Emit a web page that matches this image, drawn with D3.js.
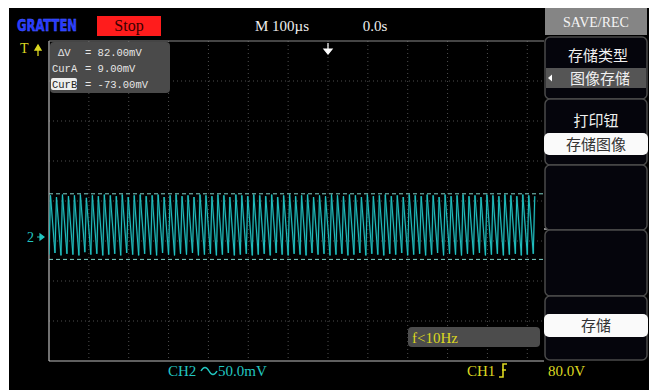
<!DOCTYPE html>
<meta charset="utf-8">
<style>
body { margin: 0; background: #fff; }
svg { display: block; }
.serif { font-family: "Liberation Serif", "DejaVu Serif", serif; }
.mono { font-family: "Liberation Mono", "DejaVu Sans Mono", monospace; }
.cjk { font-family: "Noto Sans CJK SC", sans-serif; }
.grid line { stroke: #4e4e4e; stroke-width: 1; stroke-dasharray: 1,3; }
.wave { fill: none; stroke: #22c2c2; stroke-width: 1px; }
.wave-glow { fill: none; stroke: #0b7478; stroke-width: 2px; opacity: 0.45; }
</style>
<svg width="652" height="390"></svg>
<script src="https://cdn.jsdelivr.net/npm/d3@7"></script>
<script>

// scope settings
var timePerDiv = 100;      // µs
var voltPerDiv = 50;       // mV (CH2)
var divX = 14, divY = 8;
var triggerTime = 0;       // µs, "0.0s"
var ch2Offset = -45;       // mV, position of the "2->" marker
var cursors = [{name: "CurA", mv: 9.00}, {name: "CurB", mv: -73.00}];

// CH2 trace: one peak and one trough per cycle, in mV
var cyclePeriod = 15.0;    // µs between successive troughs
var traceStart = -700;     // µs
var peaks = [7,5,8,6,7,8,4,7,6,8, 7,6,8,5,7,8,6,7,8,5, 7,8,6,7,5,8,7,6,8,7,
             5,8,7,6,8,7,6,8,5,7, 8,6,7,8,5,7,6,8,7,6, 8,7,5,8,6,7,8,6,7,5,
             8,7,6,8,7,5,8,6,7,8, 6,7,5,8,7,6,8,7,6,8, 7,6];
var troughs = [-67,-65,-68,-66,-67,-68,-64,-67,-66,-68, -67,-66,-68,-65,-67,-68,-66,-67,-68,-65,
               -67,-68,-66,-67,-65,-68,-67,-66,-68,-67, -65,-68,-67,-66,-68,-67,-66,-68,-65,-67,
               -68,-66,-67,-68,-65,-67,-66,-68,-67,-66, -68,-67,-65,-68,-66,-67,-68,-66,-67,-65,
               -68,-67,-66,-68,-67,-65,-68,-66,-67,-68, -66,-67,-65,-68,-67,-66,-68,-67,-66,-68,
               -67,-66];

// status texts
var topLabels = {timebase: "M 100µs", delay: "0.0s", state: "Stop", brand: "GRATTEN"};
var ch2Label = "CH2 ", ch2Scale = "50.0mV";
var ch1Label = "CH1", trigLevel = "80.0V";
var freqLabel = "f<10Hz";
var menuTitle = "SAVE/REC";
var menuItems = ["存储类型", "图像存储", "打印钮", "存储图像", "存储"];

var svg = d3.select("svg");

var plot = {left: 49, top: 41, width: 558, height: 320, clipRight: 544};

var x = d3.scaleLinear()
    .domain([-divX / 2 * timePerDiv, divX / 2 * timePerDiv])
    .range([plot.left, plot.left + plot.width]);
var y = d3.scaleLinear()
    .domain([-divY / 2 * voltPerDiv, divY / 2 * voltPerDiv])
    .range([plot.top + plot.height, plot.top]);

var yellow = "#dcd820", cyan = "#22c6c0";

// screen
svg.append("rect").attr("x", 9).attr("y", 8).attr("width", 640).attr("height", 382).attr("fill", "#000");

svg.append("clipPath").attr("id", "clip")
  .append("rect")
    .attr("x", plot.left).attr("y", plot.top)
    .attr("width", plot.clipRight - plot.left).attr("height", plot.height);

// grid
var grid = svg.append("g").attr("class", "grid").attr("clip-path", "url(#clip)");
grid.selectAll(".gx")
  .data(d3.range(1, divX).map(function(i) { return x.domain()[0] + i * timePerDiv; }))
  .enter().append("line")
    .attr("x1", function(d) { return x(d); }).attr("x2", function(d) { return x(d); })
    .attr("y1", plot.top).attr("y2", plot.top + plot.height);
grid.selectAll(".gy")
  .data(d3.range(1, divY).map(function(i) { return y.domain()[0] + i * voltPerDiv; }))
  .enter().append("line")
    .attr("x1", plot.left).attr("x2", plot.clipRight)
    .attr("y1", function(d) { return y(d); }).attr("y2", function(d) { return y(d); });

// frame
var frame = svg.append("g").attr("stroke", "#bdbdbd").attr("stroke-width", 1.2);
frame.append("line").attr("x1", plot.left).attr("x2", plot.left).attr("y1", plot.top).attr("y2", plot.top + plot.height);
frame.append("line").attr("x1", plot.left).attr("x2", plot.clipRight).attr("y1", plot.top + plot.height).attr("y2", plot.top + plot.height);
frame.append("line").attr("x1", plot.left).attr("x2", plot.clipRight).attr("y1", plot.top).attr("y2", plot.top).attr("stroke", "#8a8a8a");

// trace
var trace = [];
peaks.forEach(function(p, i) {
  var t0 = traceStart + i * cyclePeriod;
  trace.push({t: t0, v: troughs[i]});
  trace.push({t: t0 + 0.25 * cyclePeriod, v: p});
});
var line = d3.line()
    .x(function(d) { return x(d.t); })
    .y(function(d) { return y(d.v); });

var tg = svg.append("g").attr("clip-path", "url(#clip)");
tg.append("path").datum(trace).attr("class", "wave-glow").attr("d", line);
tg.append("path").datum(trace).attr("class", "wave").attr("d", line);

// cursor lines
tg.selectAll(".cursor")
  .data(cursors)
  .enter().append("line")
    .attr("x1", plot.left).attr("x2", plot.clipRight)
    .attr("y1", function(d) { return y(d.mv); }).attr("y2", function(d) { return y(d.mv); })
    .attr("stroke", "#7fd0c8").attr("stroke-width", 1).attr("stroke-dasharray", "4,3");

// cursor readout
svg.append("rect").attr("x", plot.left + 1).attr("y", plot.top + 1).attr("width", 120).attr("height", 51)
    .attr("rx", 4).attr("fill", "#4a4a4a");
var readout = [
  {label: "ΔV", value: (cursors[0].mv - cursors[1].mv).toFixed(2) + "mV", indent: 6},
  {label: cursors[0].name, value: cursors[0].mv.toFixed(2) + "mV", indent: 0},
  {label: cursors[1].name, value: cursors[1].mv.toFixed(2) + "mV", indent: 0, active: true}
];
readout.forEach(function(r, i) {
  var yy = plot.top + 15 + i * 16;
  if (r.active) {
    svg.append("rect").attr("x", plot.left + 2).attr("y", yy - 10).attr("width", 26).attr("height", 12)
        .attr("rx", 2).attr("fill", "#eee");
  }
  svg.append("text").attr("class", "mono")
      .attr("x", plot.left + 3 + r.indent).attr("y", yy)
      .attr("font-size", 10.5).attr("fill", r.active ? "#222" : "#e6e6e6")
      .text(r.label);
  svg.append("text").attr("class", "mono")
      .attr("x", plot.left + 36).attr("y", yy)
      .attr("font-size", 10.5).attr("fill", "#e6e6e6")
      .text("= " + r.value);
});

// markers
svg.append("text").attr("class", "serif").attr("x", 20).attr("y", 53)
    .attr("font-size", 14).attr("fill", yellow).text("T");
svg.append("path").attr("d", "M38,45 l-3,5 h6 z M38,48 v8").attr("stroke", yellow).attr("fill", yellow).attr("stroke-width", 1.3);

svg.append("text").attr("class", "serif").attr("x", 27).attr("y", y(ch2Offset) + 5)
    .attr("font-size", 14).attr("fill", cyan).text("2");
svg.append("path")
    .attr("d", "M37," + y(ch2Offset) + " h6 m-3,-3 l4,3 l-4,3 z")
    .attr("stroke", cyan).attr("fill", cyan).attr("stroke-width", 1.2);

var tx = x(triggerTime);
svg.append("path")
    .attr("d", "M" + tx + "," + (plot.top + 2) + " v7 m-4,-1 h8 l-4,5 z")
    .attr("stroke", "#fff").attr("fill", "#fff").attr("stroke-width", 1.2);

svg.append("line").attr("x1", plot.clipRight).attr("x2", plot.clipRight + 14)
    .attr("y1", 229).attr("y2", 229).attr("stroke", "#bbb").attr("stroke-width", 1.5);

// top bar
svg.append("text").attr("x", 17).attr("y", 31).attr("font-family", "DejaVu Sans Condensed, DejaVu Sans, sans-serif")
    .attr("font-weight", "bold").attr("font-size", 15).attr("textLength", 60).attr("lengthAdjust", "spacingAndGlyphs")
    .attr("fill", "#2637ff").attr("stroke", "#4f66ff").attr("stroke-width", 0.4).text(topLabels.brand);
svg.append("rect").attr("x", 97).attr("y", 16).attr("width", 64).attr("height", 20).attr("fill", "#ff1c1c");
svg.append("text").attr("class", "serif").attr("x", 129).attr("y", 31).attr("text-anchor", "middle")
    .attr("font-size", 16).attr("fill", "#3a0000").text(topLabels.state);
svg.append("text").attr("class", "serif").attr("x", 282).attr("y", 31).attr("text-anchor", "middle")
    .attr("font-size", 15).attr("fill", "#eee").text(topLabels.timebase);
svg.append("text").attr("class", "serif").attr("x", 375).attr("y", 31).attr("text-anchor", "middle")
    .attr("font-size", 15).attr("fill", "#eee").text(topLabels.delay);

// menu panel
var mx = 545, mw = 102;
svg.append("rect").attr("x", mx).attr("y", 8).attr("width", mw).attr("height", 27).attr("fill", "#858585");
svg.append("text").attr("class", "serif").attr("x", mx + mw / 2).attr("y", 27).attr("text-anchor", "middle")
    .attr("font-size", 14).attr("fill", "#f4f4f4").text(menuTitle);

var boxes = [[37, 99], [99, 165], [165, 230], [230, 296], [296, 360]];
svg.selectAll(".mbox")
  .data(boxes)
  .enter().append("rect")
    .attr("x", mx).attr("y", function(d) { return d[0]; })
    .attr("width", mw).attr("height", function(d) { return d[1] - d[0]; })
    .attr("rx", 5).attr("fill", "#05050c").attr("stroke", "#4a4a4a").attr("stroke-width", 1.5);

svg.append("text").attr("class", "cjk").attr("x", mx + mw / 2 + 2).attr("y", 61).attr("text-anchor", "middle")
    .attr("font-size", 15).attr("fill", "#f0f0f0").text(menuItems[0]);
svg.append("rect").attr("x", mx + 1).attr("y", 68).attr("width", mw - 2).attr("height", 20).attr("fill", "#555");
svg.append("path").attr("d", "M548,78 l4,-3.5 v7 z").attr("fill", "#fff");
svg.append("text").attr("class", "cjk").attr("x", mx + mw / 2 + 4).attr("y", 84).attr("text-anchor", "middle")
    .attr("font-size", 15).attr("fill", "#f0f0f0").text(menuItems[1]);

svg.append("text").attr("class", "cjk").attr("x", mx + mw / 2).attr("y", 126).attr("text-anchor", "middle")
    .attr("font-size", 15).attr("fill", "#f0f0f0").text(menuItems[2]);
svg.append("rect").attr("x", mx - 1).attr("y", 133).attr("width", mw + 2).attr("height", 22).attr("rx", 5).attr("fill", "#fafafa");
svg.append("text").attr("class", "cjk").attr("x", mx + mw / 2).attr("y", 150).attr("text-anchor", "middle")
    .attr("font-size", 15).attr("fill", "#333").text(menuItems[3]);

svg.append("rect").attr("x", mx - 1).attr("y", 314).attr("width", mw + 2).attr("height", 23).attr("rx", 5).attr("fill", "#fafafa");
svg.append("text").attr("class", "cjk").attr("x", mx + mw / 2).attr("y", 331).attr("text-anchor", "middle")
    .attr("font-size", 15).attr("fill", "#333").text(menuItems[4]);

// frequency box
svg.append("rect").attr("x", 408).attr("y", 327).attr("width", 132).attr("height", 20).attr("rx", 4).attr("fill", "#4c4c4c");
svg.append("text").attr("class", "serif").attr("x", 412).attr("y", 343)
    .attr("font-size", 15).attr("fill", yellow).text(freqLabel);

// bottom status
svg.append("text").attr("class", "serif").attr("x", 168).attr("y", 376)
    .attr("font-size", 15).attr("fill", cyan).text(ch2Label);
svg.append("path").attr("d", "M201,371 q4,-7 8,0 q4,7 8,0").attr("fill", "none").attr("stroke", cyan).attr("stroke-width", 1.5);
svg.append("text").attr("class", "serif").attr("x", 218).attr("y", 376)
    .attr("font-size", 15).attr("fill", cyan).text(ch2Scale);
svg.append("text").attr("class", "serif").attr("x", 467).attr("y", 376)
    .attr("font-size", 15).attr("fill", yellow).text(ch1Label);
svg.append("path").attr("d", "M507,364 h-4 v13 h-4 M502,370 h4").attr("fill", "none").attr("stroke", yellow).attr("stroke-width", 1.6);
svg.append("text").attr("class", "serif").attr("x", 548).attr("y", 376)
    .attr("font-size", 15).attr("fill", yellow).text(trigLevel);

</script>
